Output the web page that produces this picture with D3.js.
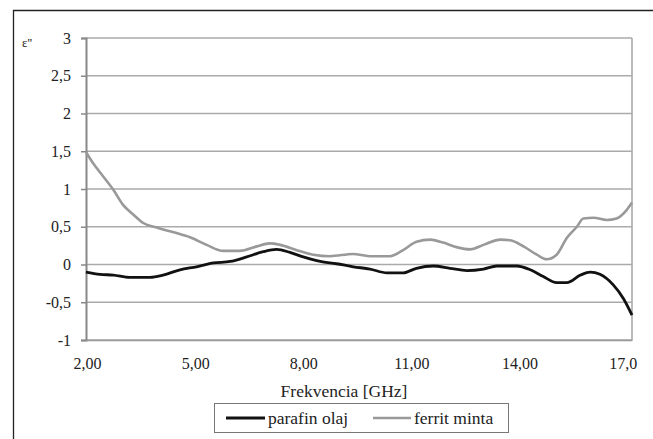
<!DOCTYPE html>
<html>
<head>
<meta charset="utf-8">
<script src="https://cdn.jsdelivr.net/npm/d3@7"></script>
<style>
  body { margin: 0; background: #fff; }
  svg text { font-family: 'Liberation Serif', 'Times New Roman', Tinos, 'DejaVu Serif', serif !important; fill: #222; }
</style>
</head>
<body>
<div id="chart"></div>
<script>
// frequency [GHz] and eps''
const paraFreq = [1.97, 2.36, 2.73, 3.19, 3.75, 4.11, 4.58, 5.04, 5.51, 5.97, 6.43, 6.89, 7.26, 7.63, 8.00, 8.47, 8.92, 9.39, 9.85, 10.32, 10.77, 11.14, 11.61, 12.07, 12.54, 13.00, 13.37, 13.92, 14.30, 14.66, 15.03, 15.31, 15.69, 15.96, 16.23, 16.60, 16.88, 17.12];
const paraVal = [-0.10, -0.13, -0.14, -0.17, -0.17, -0.14, -0.07, -0.03, 0.02, 0.04, 0.10, 0.17, 0.20, 0.16, 0.10, 0.04, 0.01, -0.03, -0.06, -0.11, -0.11, -0.05, -0.02, -0.05, -0.08, -0.06, -0.02, -0.02, -0.07, -0.16, -0.24, -0.24, -0.14, -0.10, -0.13, -0.27, -0.45, -0.67];

const ferrFreq = [1.97, 2.17, 2.46, 2.73, 3.00, 3.29, 3.56, 3.93, 4.38, 4.86, 5.32, 5.78, 6.24, 6.71, 7.07, 7.36, 7.82, 8.28, 8.74, 9.38, 9.84, 10.41, 10.77, 11.14, 11.52, 11.88, 12.25, 12.63, 13.00, 13.47, 13.74, 14.11, 14.48, 14.75, 15.03, 15.31, 15.59, 15.77, 16.05, 16.42, 16.69, 16.97, 17.12];
const ferrVal = [1.49, 1.34, 1.16, 0.99, 0.79, 0.66, 0.55, 0.49, 0.43, 0.36, 0.26, 0.18, 0.18, 0.24, 0.28, 0.26, 0.19, 0.13, 0.11, 0.14, 0.11, 0.11, 0.19, 0.30, 0.33, 0.29, 0.23, 0.20, 0.26, 0.33, 0.32, 0.24, 0.13, 0.07, 0.13, 0.35, 0.50, 0.61, 0.62, 0.59, 0.61, 0.72, 0.82];

const xTicks = [2, 5, 8, 11, 14, 17];
const xTickLabels = ["2,00", "5,00", "8,00", "11,00", "14,00", "17,0"];
const yTicks = [-1, -0.5, 0, 0.5, 1, 1.5, 2, 2.5, 3];

const seriesNames = ["parafin olaj", "ferrit minta"];
const seriesColors = ["#111", "#999"];

var W = 653, H = 439;
var plot = { left: 86, right: 632, top: 38, bottom: 340 };
var serif = "'Liberation Serif', 'Times New Roman', Tinos, 'DejaVu Serif', serif";

var svg = d3.select("#chart").append("svg")
  .attr("width", W)
  .attr("height", H)
  .attr("font-family", serif);

// outer frame (figure is cropped on right and bottom)
svg.append("path")
  .attr("d", "M13.5," + H + " V10.5 H" + W)
  .attr("fill", "none")
  .attr("stroke", "#222")
  .attr("stroke-width", 1.3);

const xScale = d3.scaleLinear()
  .domain([1.972, 17.12])
  .range([plot.left, plot.right]);

const yScale = d3.scaleLinear()
  .domain([-1, 3])
  .range([plot.bottom, plot.top]);

// horizontal gridlines
svg.append("g")
  .selectAll("line")
  .data(yTicks)
  .enter()
  .append("line")
  .attr("x1", plot.left)
  .attr("x2", plot.right)
  .attr("y1", (d) => yScale(d))
  .attr("y2", (d) => yScale(d))
  .attr("stroke", "#aaa")
  .attr("stroke-width", 1.6);

// right border of plot area
svg.append("line")
  .attr("x1", plot.right).attr("x2", plot.right)
  .attr("y1", plot.top).attr("y2", plot.bottom)
  .attr("stroke", "#aaa")
  .attr("stroke-width", 1.6);

// y axis
const yAxis = d3.axisLeft(yScale)
  .tickValues(yTicks)
  .tickSize(5)
  .tickPadding(10)
  .tickFormat((d) => String(d).replace(".", ","));

svg.append("g")
  .attr("id", "y-axis")
  .attr("transform", "translate(" + plot.left + ",0)")
  .call(yAxis)
  .attr("font-family", serif)
  .call((g) => g.select(".domain").attr("stroke", "#888").attr("stroke-width", 2))
  .call((g) => g.selectAll(".tick line").attr("stroke", "#888").attr("stroke-width", 1.5))
  .call((g) => g.selectAll(".tick text").attr("font-size", 16).attr("fill", "#222"));

// x axis
const xAxis = d3.axisBottom(xScale)
  .tickValues(xTicks)
  .tickSize(0)
  .tickPadding(18)
  .tickFormat((d, i) => xTickLabels[i]);

svg.append("g")
  .attr("id", "x-axis")
  .attr("transform", "translate(0," + plot.bottom + ")")
  .call(xAxis)
  .attr("font-family", serif)
  .call((g) => g.select(".domain").attr("stroke", "#999").attr("stroke-width", 1.6))
  .call((g) => g.selectAll(".tick text").attr("font-size", 16).attr("fill", "#222")
    .attr("dx", (d, i) => i === xTicks.length - 1 ? -5 : 0));

// lines
const line = d3.line()
  .x((d) => xScale(d[0]))
  .y((d) => yScale(d[1]))
  .curve(d3.curveMonotoneX);

const series = [
  d3.zip(ferrFreq, ferrVal),
  d3.zip(paraFreq, paraVal)
];

svg.append("path")
  .datum(series[0])
  .attr("d", line)
  .attr("fill", "none")
  .attr("stroke", seriesColors[1])
  .attr("stroke-width", 2.6);

svg.append("path")
  .datum(series[1])
  .attr("d", line)
  .attr("fill", "none")
  .attr("stroke", seriesColors[0])
  .attr("stroke-width", 2.8);

// y label
svg.append("text")
  .attr("x", 22)
  .attr("y", 47)
  .attr("font-size", 13)
  .text("ε''");

// x title
svg.append("text")
  .attr("x", 344)
  .attr("y", 397)
  .attr("text-anchor", "middle")
  .attr("font-size", 17.5)
  .text("Frekvencia [GHz]");

// legend
var legend = svg.append("g");
legend.append("rect")
  .attr("x", 214.5).attr("y", 403.5)
  .attr("width", 294).attr("height", 29)
  .attr("fill", "#fff")
  .attr("stroke", "#777")
  .attr("stroke-width", 1);

var legendX = [[226, 265, 268], [373, 411, 414]];
seriesNames.forEach(function (name, i) {
  legend.append("line")
    .attr("x1", legendX[i][0]).attr("x2", legendX[i][1])
    .attr("y1", 418).attr("y2", 418)
    .attr("stroke", seriesColors[i])
    .attr("stroke-width", i === 0 ? 2.8 : 2.6);
  legend.append("text")
    .attr("x", legendX[i][2])
    .attr("y", 424)
    .attr("font-size", 17.5)
    .text(name);
});
</script>
</body>
</html>
